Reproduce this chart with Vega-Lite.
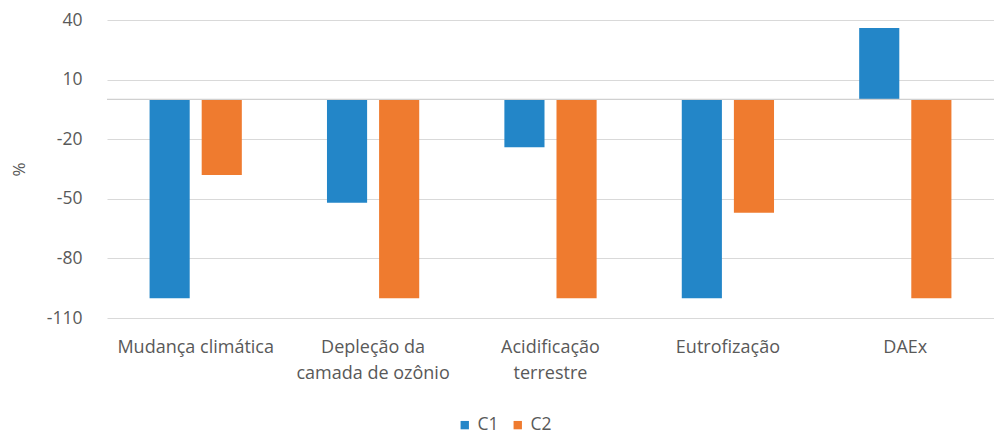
{
  "$schema": "https://vega.github.io/schema/vega-lite/v6.json",
  "width": 887,
  "height": 298,
  "autosize": {"type": "none"},
  "padding": {"left": 107, "top": 20, "right": 0, "bottom": 117},
  "background": "white",
  "config": {
    "view": {"stroke": null},
    "font": "Open Sans",
    "axis": {"labelFont": "Open Sans", "titleFont": "Open Sans", "labelColor": "#595959", "titleColor": "#595959"}
  },
  "data": {
    "values": [
      {"categoria": "Mudança climática", "serie": "C1", "valor": -100},
      {"categoria": "Mudança climática", "serie": "C2", "valor": -38},
      {"categoria": "Depleção da camada de ozônio", "serie": "C1", "valor": -52},
      {"categoria": "Depleção da camada de ozônio", "serie": "C2", "valor": -100},
      {"categoria": "Acidificação terrestre", "serie": "C1", "valor": -24},
      {"categoria": "Acidificação terrestre", "serie": "C2", "valor": -100},
      {"categoria": "Eutrofização", "serie": "C1", "valor": -100},
      {"categoria": "Eutrofização", "serie": "C2", "valor": -57},
      {"categoria": "DAEx", "serie": "C1", "valor": 36},
      {"categoria": "DAEx", "serie": "C2", "valor": -100}
    ]
  },
  "layer": [
    {
      "mark": {"type": "bar"},
      "encoding": {
        "x": {
          "field": "categoria",
          "type": "nominal",
          "sort": null,
          "scale": {"paddingInner": 0.48, "paddingOuter": 0.24},
          "axis": {
            "title": null,
            "labelAngle": 0,
            "domain": false,
            "ticks": false,
            "labelFontSize": 18,
            "labelPadding": 20,
            "labelLineHeight": 26,
            "labelExpr": "datum.value == 'Depleção da camada de ozônio' ? ['Depleção da', 'camada de ozônio'] : datum.value == 'Acidificação terrestre' ? ['Acidificação', 'terrestre'] : datum.value"
          }
        },
        "xOffset": {"field": "serie", "type": "nominal", "scale": {"paddingInner": 0.23, "paddingOuter": 0}},
        "y": {
          "field": "valor",
          "type": "quantitative",
          "scale": {"domain": [-110, 40], "nice": false, "zero": false},
          "axis": {
            "title": "%",
            "titleFontSize": 17,
            "titleFontWeight": "normal",
            "titlePadding": 18,
            "values": [40, 10, -20, -50, -80, -110],
            "labelExpr": "toString(datum.value)",
            "labelFontSize": 17.5,
            "labelPadding": 25,
            "ticks": false,
            "domain": false,
            "gridColor": "#d9d9d9",
            "gridWidth": 1.2
          }
        },
        "color": {
          "field": "serie",
          "type": "nominal",
          "scale": {"domain": ["C1", "C2"], "range": ["#2386c8", "#ef7b2f"]},
          "legend": {
            "title": null,
            "orient": "none",
            "direction": "horizontal",
            "legendX": 349,
            "legendY": 396,
            "symbolType": "square",
            "symbolSize": 70,
            "symbolOffset": 0,
            "labelFontSize": 17.5,
            "labelOffset": 4,
            "labelColor": "#595959",
            "columnPadding": 10
          }
        }
      }
    },
    {
      "data": {"values": [{"y": 0}]},
      "mark": {"type": "rule", "color": "#d0d0d0", "strokeWidth": 1.2},
      "encoding": {"y": {"field": "y", "type": "quantitative"}}
    }
  ]
}
